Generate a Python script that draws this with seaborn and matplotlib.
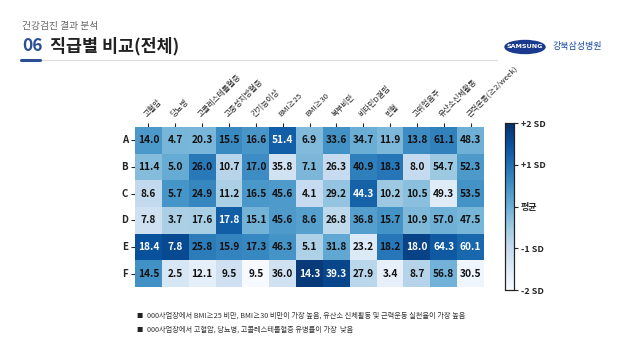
import numpy as np
import pandas as pd
import seaborn as sns
import matplotlib.pyplot as plt
from matplotlib.patches import Ellipse

sns.set_style('white')
plt.rcParams['font.family'] = ['Noto Sans CJK KR', 'DejaVu Sans']

groups = ['A', 'B', 'C', 'D', 'E', 'F']
items = ['고혈압', '당뇨병', '고콜레스테롤혈증', '고중성지방혈증', '간기능이상', 'BMI≥25', 'BMI≥30',
         '복부비만', '비타민D결핍', '빈혈', '고위험음주', '유산소신체활동', '근력운동(≥2/week)']
row_a = [14.0, 4.7, 20.3, 15.5, 16.6, 51.4, 6.9, 33.6, 34.7, 11.9, 13.8, 61.1, 48.3]
row_b = [11.4, 5.0, 26.0, 10.7, 17.0, 35.8, 7.1, 26.3, 40.9, 18.3, 8.0, 54.7, 52.3]
row_c = [8.6, 5.7, 24.9, 11.2, 16.5, 45.6, 4.1, 29.2, 44.3, 10.2, 10.5, 49.3, 53.5]
row_d = [7.8, 3.7, 17.6, 17.8, 15.1, 45.6, 8.6, 26.8, 36.8, 15.7, 10.9, 57.0, 47.5]
row_e = [18.4, 7.8, 25.8, 15.9, 17.3, 46.3, 5.1, 31.8, 23.2, 18.2, 18.0, 64.3, 60.1]
row_f = [14.5, 2.5, 12.1, 9.5, 9.5, 36.0, 14.3, 39.3, 27.9, 3.4, 8.7, 56.8, 30.5]
sd_labels = ['-2 SD', '-1 SD', '평균', '+1 SD', '+2 SD']
notes = ['000사업장에서 BMI≥25 비만, BMI≥30 비만이 가장 높음, 유산소 신체활동 및 근력운동 실천율이 가장 높음',
         '000사업장에서 고혈압, 당뇨병, 고콜레스테롤혈증 유병률이 가장  낮음']

df = pd.DataFrame([row_a, row_b, row_c, row_d, row_e, row_f], index=groups, columns=items)
z = (df - df.mean()) / df.std()

fig = plt.figure(figsize=(6.25, 3.56), dpi=100)
ax = fig.add_axes([0.216, 0.194, 0.5584, 0.4494])
cax = fig.add_axes([0.808, 0.185, 0.0144, 0.469])

sns.heatmap(z, ax=ax, cbar_ax=cax, cmap='Blues', vmin=-2, vmax=2,
            annot=df.values, fmt='.1f',
            annot_kws={'fontsize': 7.3, 'fontweight': 'bold'})
for t, zz in zip(ax.texts, z.values.flatten()):
    t.set_color('white' if zz > 1.0 else '#111111')

ax.xaxis.tick_top()
ax.set_xticklabels(items, rotation=45, ha='left', va='bottom', rotation_mode='anchor', fontsize=5.6)
ax.set_yticklabels(groups, rotation=0, fontsize=7, fontweight='bold')
ax.tick_params(axis='x', length=3, width=0.8, pad=3, top=True, bottom=False)
ax.tick_params(axis='y', length=3, width=0.8, pad=2, left=True)
ax.set_xlabel('')
ax.set_ylabel('')

cax.set_yticks([-2, -1, 0, 1, 2])
cax.set_yticklabels(sd_labels, fontsize=6.5, fontweight='bold')
cax.tick_params(length=3, width=0.8, pad=2)
for s in cax.spines.values():
    s.set_visible(True)
    s.set_color('#222222')
    s.set_linewidth(0.8)

# header
W, H = 625, 356
def fx(x): return x / W
def fy(y): return 1 - y / H

fig.text(fx(22), fy(26), '건강검진 결과 분석', fontsize=7, color='#666666', va='center')
fig.text(fx(22), fy(46), '06', fontsize=12.5, fontweight='bold', color='#2b4f93', va='center')
fig.text(fx(50), fy(46), '직급별 비교(전체)', fontsize=12.5, fontweight='bold', color='#222222', va='center')
fig.add_artist(plt.Line2D([fx(22), fx(497)], [fy(59.5), fy(59.5)], color='#dddddd', lw=0.8))
fig.add_artist(plt.Line2D([fx(21), fx(40)], [fy(59.5), fy(59.5)], color='#2b4f93', lw=2.2))
fig.add_artist(Ellipse((fx(525), fy(47)), fx(40), 13 / H, color='#1a3a8f'))
fig.text(fx(525), fy(46.5), 'SAMSUNG', fontsize=4.6, fontweight='bold', color='white',
         ha='center', va='center', family=['DejaVu Sans'])
fig.text(fx(552), fy(46), '강북삼성병원', fontsize=6.5, color='#1a4aa0', va='center')

# notes
for i, note in enumerate(notes):
    y = 316 + i * 14
    fig.text(fx(136), fy(y), '■', fontsize=4.5, color='#222222', va='center')
    fig.text(fx(147), fy(y), note, fontsize=5.2, color='#333333', va='center')

fig.savefig('out.png', dpi=100)
